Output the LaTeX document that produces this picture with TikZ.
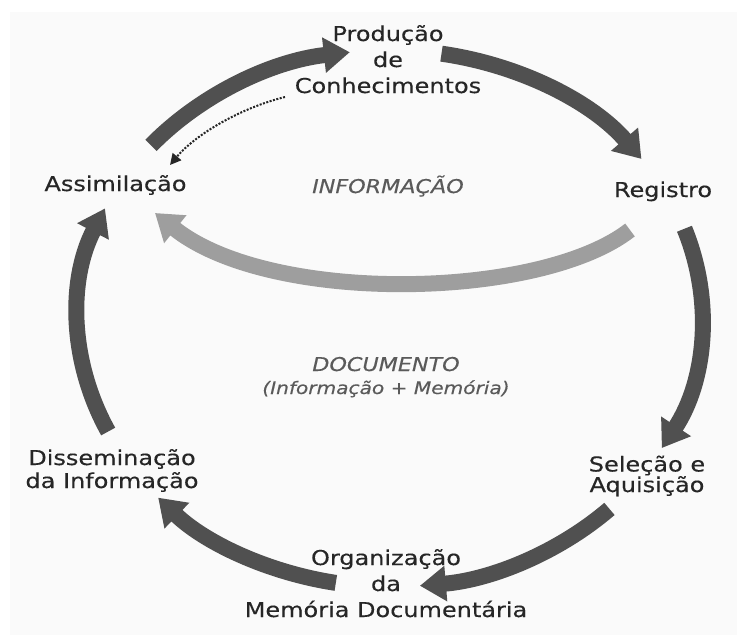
\documentclass[tikz,border=0pt]{standalone}
\usepackage{fontspec}
\setmainfont{DejaVu Sans}[FakeStretch=1.17,FakeBold=0.3]
\usetikzlibrary{arrows.meta}
\definecolor{bgcol}{RGB}{250,250,250}
\definecolor{arrcol}{RGB}{80,80,80}
\definecolor{lightarr}{RGB}{158,158,158}
\definecolor{txtcol}{RGB}{38,38,38}
\definecolor{ittxt}{RGB}{90,90,90}
\tikzset{
  lbl/.style={font=\fontsize{20.5}{26}\selectfont, text=txtcol, align=center, inner sep=0pt, anchor=base},
  itlbl/.style={font=\fontsize{19}{24}\selectfont\itshape, text=ittxt, inner sep=0pt, anchor=base},
  smitlbl/.style={font=\fontsize{17.2}{22}\selectfont\itshape, text=ittxt, inner sep=0pt, anchor=base},
  bigarrow/.style={line width=16pt, draw=arrcol, -{Triangle[width=34pt,length=26pt]}},
  lightarrow/.style={line width=16pt, draw=lightarr, -{Triangle[width=34pt,length=26pt]}},
  dotarrow/.style={line width=2pt, draw=txtcol, dash pattern=on 2pt off 1.5pt, -{Triangle[width=11pt,length=11pt]}},
  ell/.style={x radius=312, y radius=267},
  ellb/.style={x radius=312, y radius=270}
}
\begin{document}
\begin{tikzpicture}[x=1pt,y=1pt]
\useasboundingbox (0,0) rectangle (737,-635);
\fill[bgcol] (10,-12) rectangle (737,-635);
% labels (anchor base = baseline of the last line)
\node[lbl] (prod) at (388,-93) {Produção\\de\\Conhecimentos};
\node[lbl] (assim) at (115.5,-191) {Assimilação};
\node[lbl] (reg) at (663,-197) {Registro};
\node[itlbl] (info) at (388,-193) {INFORMAÇÃO};
\node[itlbl] (doc) at (386,-371) {DOCUMENTO};
\node[smitlbl] (docsub) at (386,-394) {(Informação + Memória)};
\node[lbl, font=\fontsize{20.5}{23}\selectfont] (dissem) at (112,-488) {Disseminação\\da Informação};
\node[lbl, font=\fontsize{20.5}{20.5}\selectfont] (sel) at (647,-492) {Seleção e\\Aquisição};
\node[lbl] (org) at (386,-617) {Organização\\da\\Memória Documentária};
% ellipse centre and arrow end points
\coordinate (c) at (390,-317);
\coordinate (t1) at ([shift={(140:312 and 267)}]c);
\coordinate (t2) at ([shift={(80.5:312 and 267)}]c);
\coordinate (t3) at ([shift={(19.3:312 and 267)}]c);
\coordinate (t4) at ([shift={(-45.3:312 and 270)}]c);
\coordinate (t5) at ([shift={(-100:312 and 270)}]c);
\coordinate (t6) at ([shift={(205.4:312 and 267)}]c);
% cycle arrows
\draw[bigarrow] (t1) arc[start angle=140, end angle=97.4, ell];
\draw[bigarrow] (t2) arc[start angle=80.5, end angle=36.3, ell];
\draw[bigarrow] (t3) arc[start angle=19.3, end angle=-29.4, ell];
\draw[bigarrow] (t4) arc[start angle=-45.3, end angle=-84.5, ellb];
\draw[bigarrow] (t5) arc[start angle=-100, end angle=-138, ellb];
\draw[bigarrow] (t6) arc[start angle=205.4, end angle=156, ell];
% information arrow
\coordinate (lt) at (630,-230);
\coordinate (lh) at (155,-213);
\draw[lightarrow] (lt) .. controls (540,-300) and (270,-305) .. (lh);
% dotted arrow
\coordinate (d1) at (285,-97);
\coordinate (d2) at (170,-165);
\draw[dotarrow] (d1) .. controls (240,-108) and (195,-135) .. (d2);
\end{tikzpicture}
\end{document}
